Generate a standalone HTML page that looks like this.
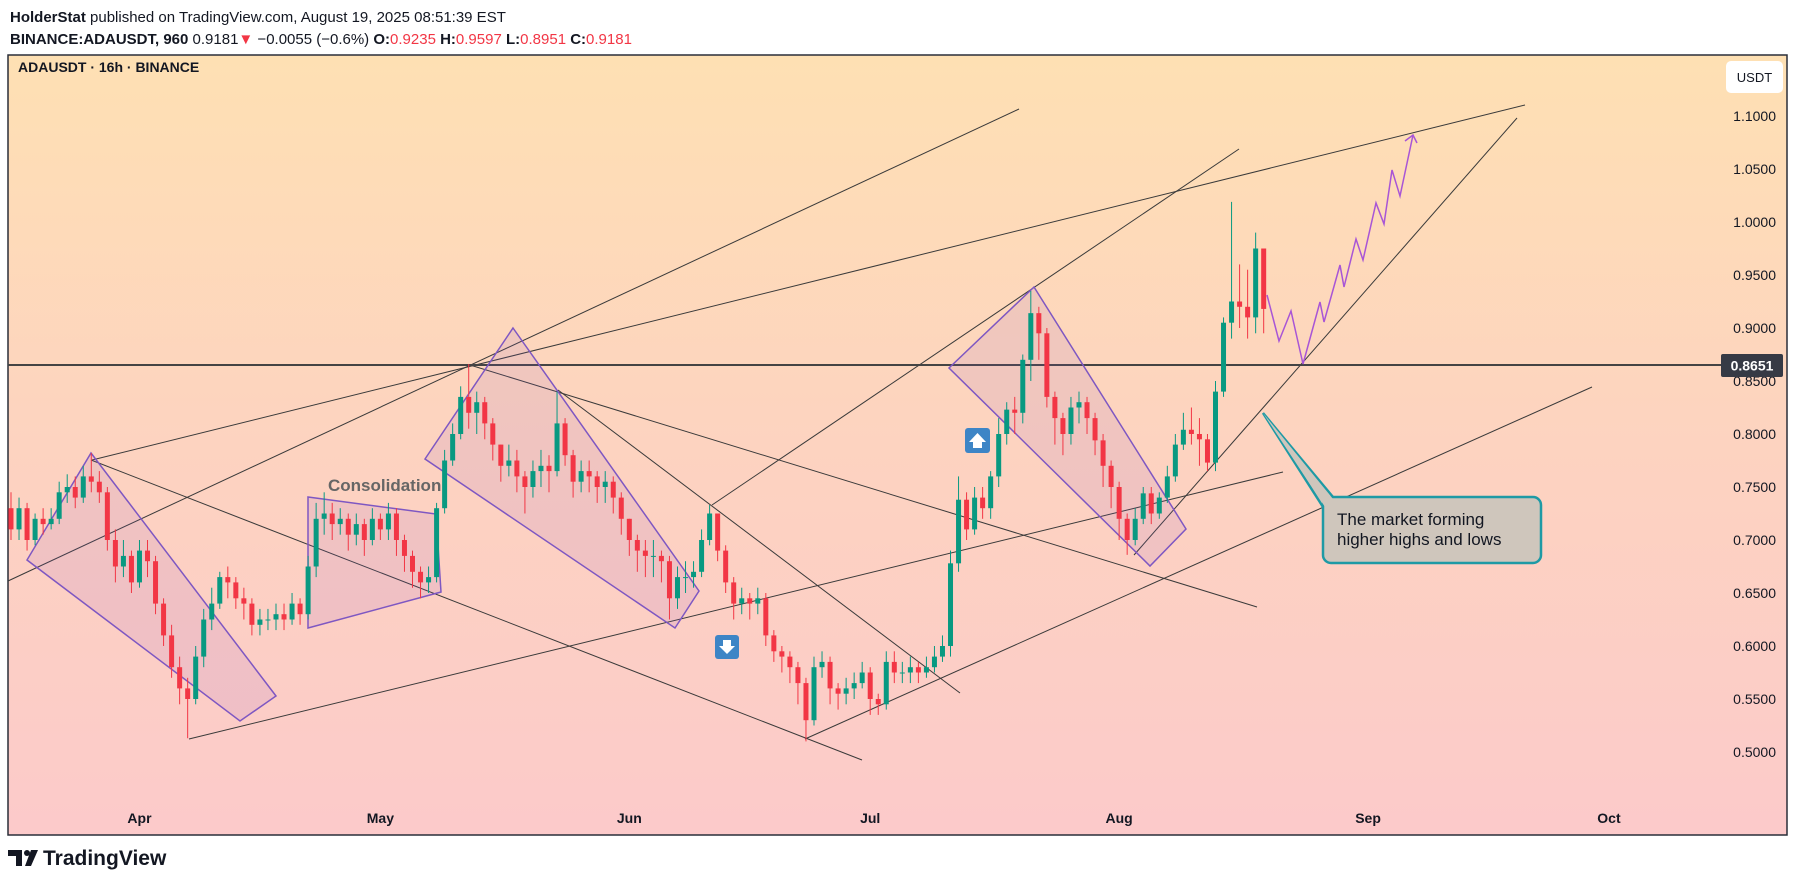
<!DOCTYPE html>
<html><head><meta charset="utf-8"><style>
body{margin:0;background:#fff;width:1796px;height:882px;overflow:hidden;font-family:"Liberation Sans",sans-serif}
svg{display:block}
</style></head><body>
<svg id="chart" width="1796" height="882" viewBox="0 0 1796 882" xmlns="http://www.w3.org/2000/svg" font-family="Liberation Sans, sans-serif">
<defs><linearGradient id="bg" x1="0" y1="0" x2="0" y2="1"><stop offset="0" stop-color="#fee0b3"/><stop offset="0.5" stop-color="#fdd3c0"/><stop offset="1" stop-color="#fccaca"/></linearGradient></defs>
<g>
<text x="10" y="22" font-size="15" fill="#131722"><tspan font-weight="bold">HolderStat</tspan> published on TradingView.com, August 19, 2025 08:51:39 EST</text>
<text x="10" y="44" font-size="15" fill="#131722"><tspan font-weight="bold">BINANCE:ADAUSDT, 960</tspan> 0.9181<tspan fill="#f23645">▼</tspan> −0.0055 (−0.6%) <tspan font-weight="bold">O:</tspan><tspan fill="#f23645">0.9235</tspan> <tspan font-weight="bold">H:</tspan><tspan fill="#f23645">0.9597</tspan> <tspan font-weight="bold">L:</tspan><tspan fill="#f23645">0.8951</tspan> <tspan font-weight="bold">C:</tspan><tspan fill="#f23645">0.9181</tspan></text>
</g>
<rect x="8" y="55" width="1779" height="780" fill="url(#bg)" stroke="#2a2e39" stroke-width="1.5"/>
<text x="18" y="72" font-size="14" font-weight="bold" fill="#131722">ADAUSDT · 16h · BINANCE</text>
<g id="yaxis"></g>
<g id="xaxis"></g>
<g id="drawings" fill="none">
<line x1="8" y1="581" x2="1019" y2="109" stroke="#3a3a3a" stroke-width="1"/>
<line x1="92" y1="460" x2="1525" y2="105" stroke="#3a3a3a" stroke-width="1"/>
<line x1="712" y1="505" x2="1239" y2="149" stroke="#3a3a3a" stroke-width="1"/>
<line x1="91" y1="460" x2="862" y2="760" stroke="#3a3a3a" stroke-width="1"/>
<line x1="470" y1="365" x2="1257" y2="607" stroke="#3a3a3a" stroke-width="1"/>
<line x1="558" y1="390" x2="960" y2="693" stroke="#3a3a3a" stroke-width="1"/>
<line x1="189" y1="739" x2="1283" y2="472" stroke="#3a3a3a" stroke-width="1"/>
<line x1="805" y1="739" x2="1592" y2="387" stroke="#3a3a3a" stroke-width="1"/>
<line x1="1134" y1="555" x2="1517" y2="118" stroke="#3a3a3a" stroke-width="1"/>
<line x1="8" y1="365" x2="1721" y2="365" stroke="#444" stroke-width="2"/>
<polygon points="91,453 276,696 240,721 27,560" fill="rgba(150,90,200,0.12)" stroke="#7e57c2" stroke-width="1.5"/>
<polygon points="308,497 436,514 441,592 308,628" fill="rgba(150,90,200,0.12)" stroke="#7e57c2" stroke-width="1.5"/>
<polygon points="513,328 699,591 675,628 425,459" fill="rgba(150,90,200,0.12)" stroke="#7e57c2" stroke-width="1.5"/>
<polygon points="1034,287 1186,529 1150,566 949,368" fill="rgba(150,90,200,0.12)" stroke="#7e57c2" stroke-width="1.5"/>
</g>
<g id="candles"></g>
<g>
<text x="328" y="491" font-size="17" font-weight="bold" fill="#666">Consolidation</text>
<polyline points="1267,295 1279,341 1291,311 1303,364 1320,302 1324,322 1340,265 1344,287 1356,239 1363,260 1376,203 1384,224 1392,170 1400,196 1413,135" fill="none" stroke="#a855d6" stroke-width="1.5"/>
<polyline points="1405,141 1413,135 1417,143" fill="none" stroke="#a855d6" stroke-width="1.5"/>
<g><rect x="715" y="635" width="24" height="24" rx="3" fill="#3d85c6"/><path d="M723 640h8v6h4l-8 8-8-8h4z" fill="#fff"/></g>
<g><rect x="965" y="428" width="25" height="25" rx="3" fill="#3d85c6"/><path d="M973 448h9v-6h4l-8.5-9-8.5 9h4z" fill="#fff"/></g>
<g>
<path d="M1333,497 L1263,413 L1323,507" fill="#cfc6bc" stroke="#1e9aa5" stroke-width="2.5"/>
<rect x="1323" y="497" width="218" height="66" rx="8" fill="#cfc6bc" stroke="#1e9aa5" stroke-width="2.5"/>
<path d="M1333,499 L1263,413 L1325,507" fill="#cfc6bc" stroke="none"/>
<text x="1337" y="525" font-size="17" fill="#131722">The market forming</text>
<text x="1337" y="545" font-size="17" fill="#131722">higher highs and lows</text>
</g>
<g><rect x="1721" y="354" width="62" height="23" rx="2" fill="#363a45"/><text x="1752" y="370.5" font-size="14" font-weight="bold" fill="#fff" text-anchor="middle">0.8651</text></g>
<g><rect x="1726" y="61" width="57" height="32" rx="5" fill="#fff"/><text x="1754.5" y="82" font-size="13" fill="#131722" text-anchor="middle">USDT</text></g>
</g>
<g>
<path d="M8 850h14v16h-6v-10h-8z" fill="#131722"/><circle cx="27" cy="853" r="3" fill="#131722"/><path d="M31 850h7l-7 16h-6z" fill="#131722"/>
<text x="43" y="865" font-size="21" font-weight="bold" fill="#131722">TradingView</text>
</g>
</svg>
<script>
const closes=[0.71,0.73,0.70,0.72,0.715,0.72,0.745,0.75,0.74,0.76,
0.755,0.745,0.70,0.675,0.685,0.66,0.69,0.68,0.64,0.61,
0.58,0.56,0.55,0.59,0.625,0.64,0.665,0.66,0.645,0.64,
0.62,0.625,0.625,0.63,0.625,0.64,0.63,0.675,0.72,0.725,
0.715,0.72,0.705,0.715,0.70,0.72,0.71,0.725,0.70,0.685,
0.67,0.66,0.665,0.73,0.775,0.80,0.835,0.82,0.83,0.81,
0.79,0.77,0.775,0.76,0.75,0.765,0.77,0.765,0.81,0.78,
0.755,0.765,0.76,0.75,0.755,0.74,0.72,0.70,0.69,0.685,
0.685,0.68,0.645,0.665,0.665,0.67,0.70,0.725,0.69,0.66,
0.64,0.645,0.64,0.645,0.61,0.595,0.59,0.58,0.565,0.53,
0.58,0.585,0.56,0.555,0.56,0.565,0.575,0.55,0.545,0.585,
0.575,0.575,0.58,0.575,0.58,0.59,
0.60,0.678,0.738,0.71,0.74,0.73,0.76,0.80,0.823,0.82,
0.87,0.914,0.895,0.835,0.815,0.80,0.825,0.83,0.815,0.794,
0.77,0.75,0.72,0.70,0.72,0.744,0.725,0.74,0.76,0.79,
0.804,0.80,0.795,0.773,0.84,0.905,0.925,0.92,0.91,0.975,
0.918];
const highs=[0.745,0.74,0.735,0.725,0.73,0.73,0.755,0.762,0.76,0.77,
0.782,0.765,0.75,0.71,0.70,0.69,0.70,0.70,0.685,0.645,
0.62,0.59,0.57,0.60,0.635,0.655,0.67,0.675,0.665,0.655,
0.645,0.635,0.635,0.64,0.64,0.65,0.645,0.685,0.735,0.745,
0.735,0.73,0.725,0.725,0.72,0.73,0.725,0.735,0.73,0.705,
0.69,0.675,0.675,0.735,0.785,0.81,0.845,0.866,0.84,0.835,
0.815,0.79,0.79,0.785,0.765,0.775,0.785,0.78,0.84,0.815,
0.785,0.775,0.775,0.765,0.765,0.76,0.745,0.72,0.705,0.70,
0.70,0.69,0.685,0.675,0.68,0.68,0.71,0.733,0.725,0.695,
0.665,0.655,0.65,0.655,0.65,0.615,0.60,0.595,0.585,0.57,
0.59,0.595,0.59,0.565,0.57,0.575,0.585,0.58,0.555,0.595,
0.595,0.585,0.59,0.585,0.59,0.60,0.61,0.69,0.76,0.745,
0.75,0.75,0.765,0.815,0.83,0.835,0.875,0.935,0.92,0.90,
0.84,0.82,0.835,0.84,0.835,0.82,0.80,0.775,0.755,0.725,
0.73,0.75,0.75,0.745,0.77,0.80,0.82,0.825,0.815,0.80,
0.85,0.91,1.019,0.96,0.955,0.99,0.975];
const lows=[0.70,0.70,0.69,0.695,0.705,0.71,0.715,0.735,0.73,0.735,
0.745,0.735,0.69,0.66,0.665,0.65,0.655,0.665,0.63,0.60,
0.57,0.545,0.513,0.545,0.58,0.615,0.635,0.645,0.635,0.625,
0.61,0.61,0.615,0.615,0.615,0.62,0.62,0.625,0.665,0.705,
0.70,0.705,0.69,0.695,0.685,0.695,0.70,0.70,0.685,0.67,
0.655,0.645,0.65,0.66,0.725,0.77,0.795,0.805,0.80,0.795,
0.775,0.755,0.76,0.745,0.725,0.74,0.75,0.745,0.76,0.77,
0.74,0.745,0.745,0.735,0.735,0.725,0.705,0.685,0.67,0.665,
0.665,0.66,0.625,0.635,0.65,0.655,0.665,0.695,0.68,0.65,
0.625,0.63,0.625,0.63,0.60,0.585,0.575,0.565,0.545,0.51,
0.525,0.57,0.545,0.54,0.545,0.55,0.56,0.535,0.535,0.54,
0.565,0.565,0.565,0.565,0.57,0.575,0.585,0.59,0.67,0.70,
0.705,0.72,0.72,0.75,0.79,0.80,0.81,0.85,0.87,0.825,
0.79,0.78,0.79,0.81,0.80,0.78,0.75,0.73,0.70,0.686,
0.695,0.715,0.715,0.72,0.735,0.755,0.785,0.79,0.77,0.765,
0.765,0.835,0.89,0.90,0.89,0.895,0.895];
const firstOpen=0.73;
const priceTicks=["1.1000","1.0500","1.0000","0.9500","0.9000","0.8500","0.8000","0.7500","0.7000","0.6500","0.6000","0.5500","0.5000"];
const monthLabels=["Apr","May","Jun","Jul","Aug","Sep","Oct"];
const monthDayIndex=[16,46,77,107,138,169,199];

const NS="http://www.w3.org/2000/svg";
function yScale(p){return 116+(1.1-p)*1060;}
function xScale(i){return 11+i*8.03;}
function mk(tag,attrs,parent){const e=document.createElementNS(NS,tag);for(const k in attrs)e.setAttribute(k,attrs[k]);parent.appendChild(e);return e;}

const ya=document.getElementById('yaxis');
priceTicks.forEach(t=>{
  const e=mk('text',{x:1776,y:yScale(parseFloat(t))+5,'font-size':14,fill:'#131722','text-anchor':'end'},ya);
  
  
  e.textContent=t;
});
const xa=document.getElementById('xaxis');
monthLabels.forEach((m,k)=>{
  const e=mk('text',{x:xScale(monthDayIndex[k]),y:823,'font-size':14,'font-weight':'bold',fill:'#131722','text-anchor':'middle'},xa);
  
  
  e.textContent=m;
});
const cg=document.getElementById('candles');
closes.forEach((c,i)=>{
  const o=i===0?firstOpen:closes[i-1];
  const col=c>=o?'#089981':'#f23645';
  const x=xScale(i);
  const g=mk('g',{},cg);
  
  
  mk('line',{x1:x,x2:x,y1:yScale(highs[i]),y2:yScale(lows[i]),stroke:col,'stroke-width':1},g);
  const top=yScale(Math.max(o,c)),bot=yScale(Math.min(o,c));
  mk('rect',{x:x-2.5,y:top,width:5,height:Math.max(1,bot-top),fill:col},g);
});
</script>
</body></html>
